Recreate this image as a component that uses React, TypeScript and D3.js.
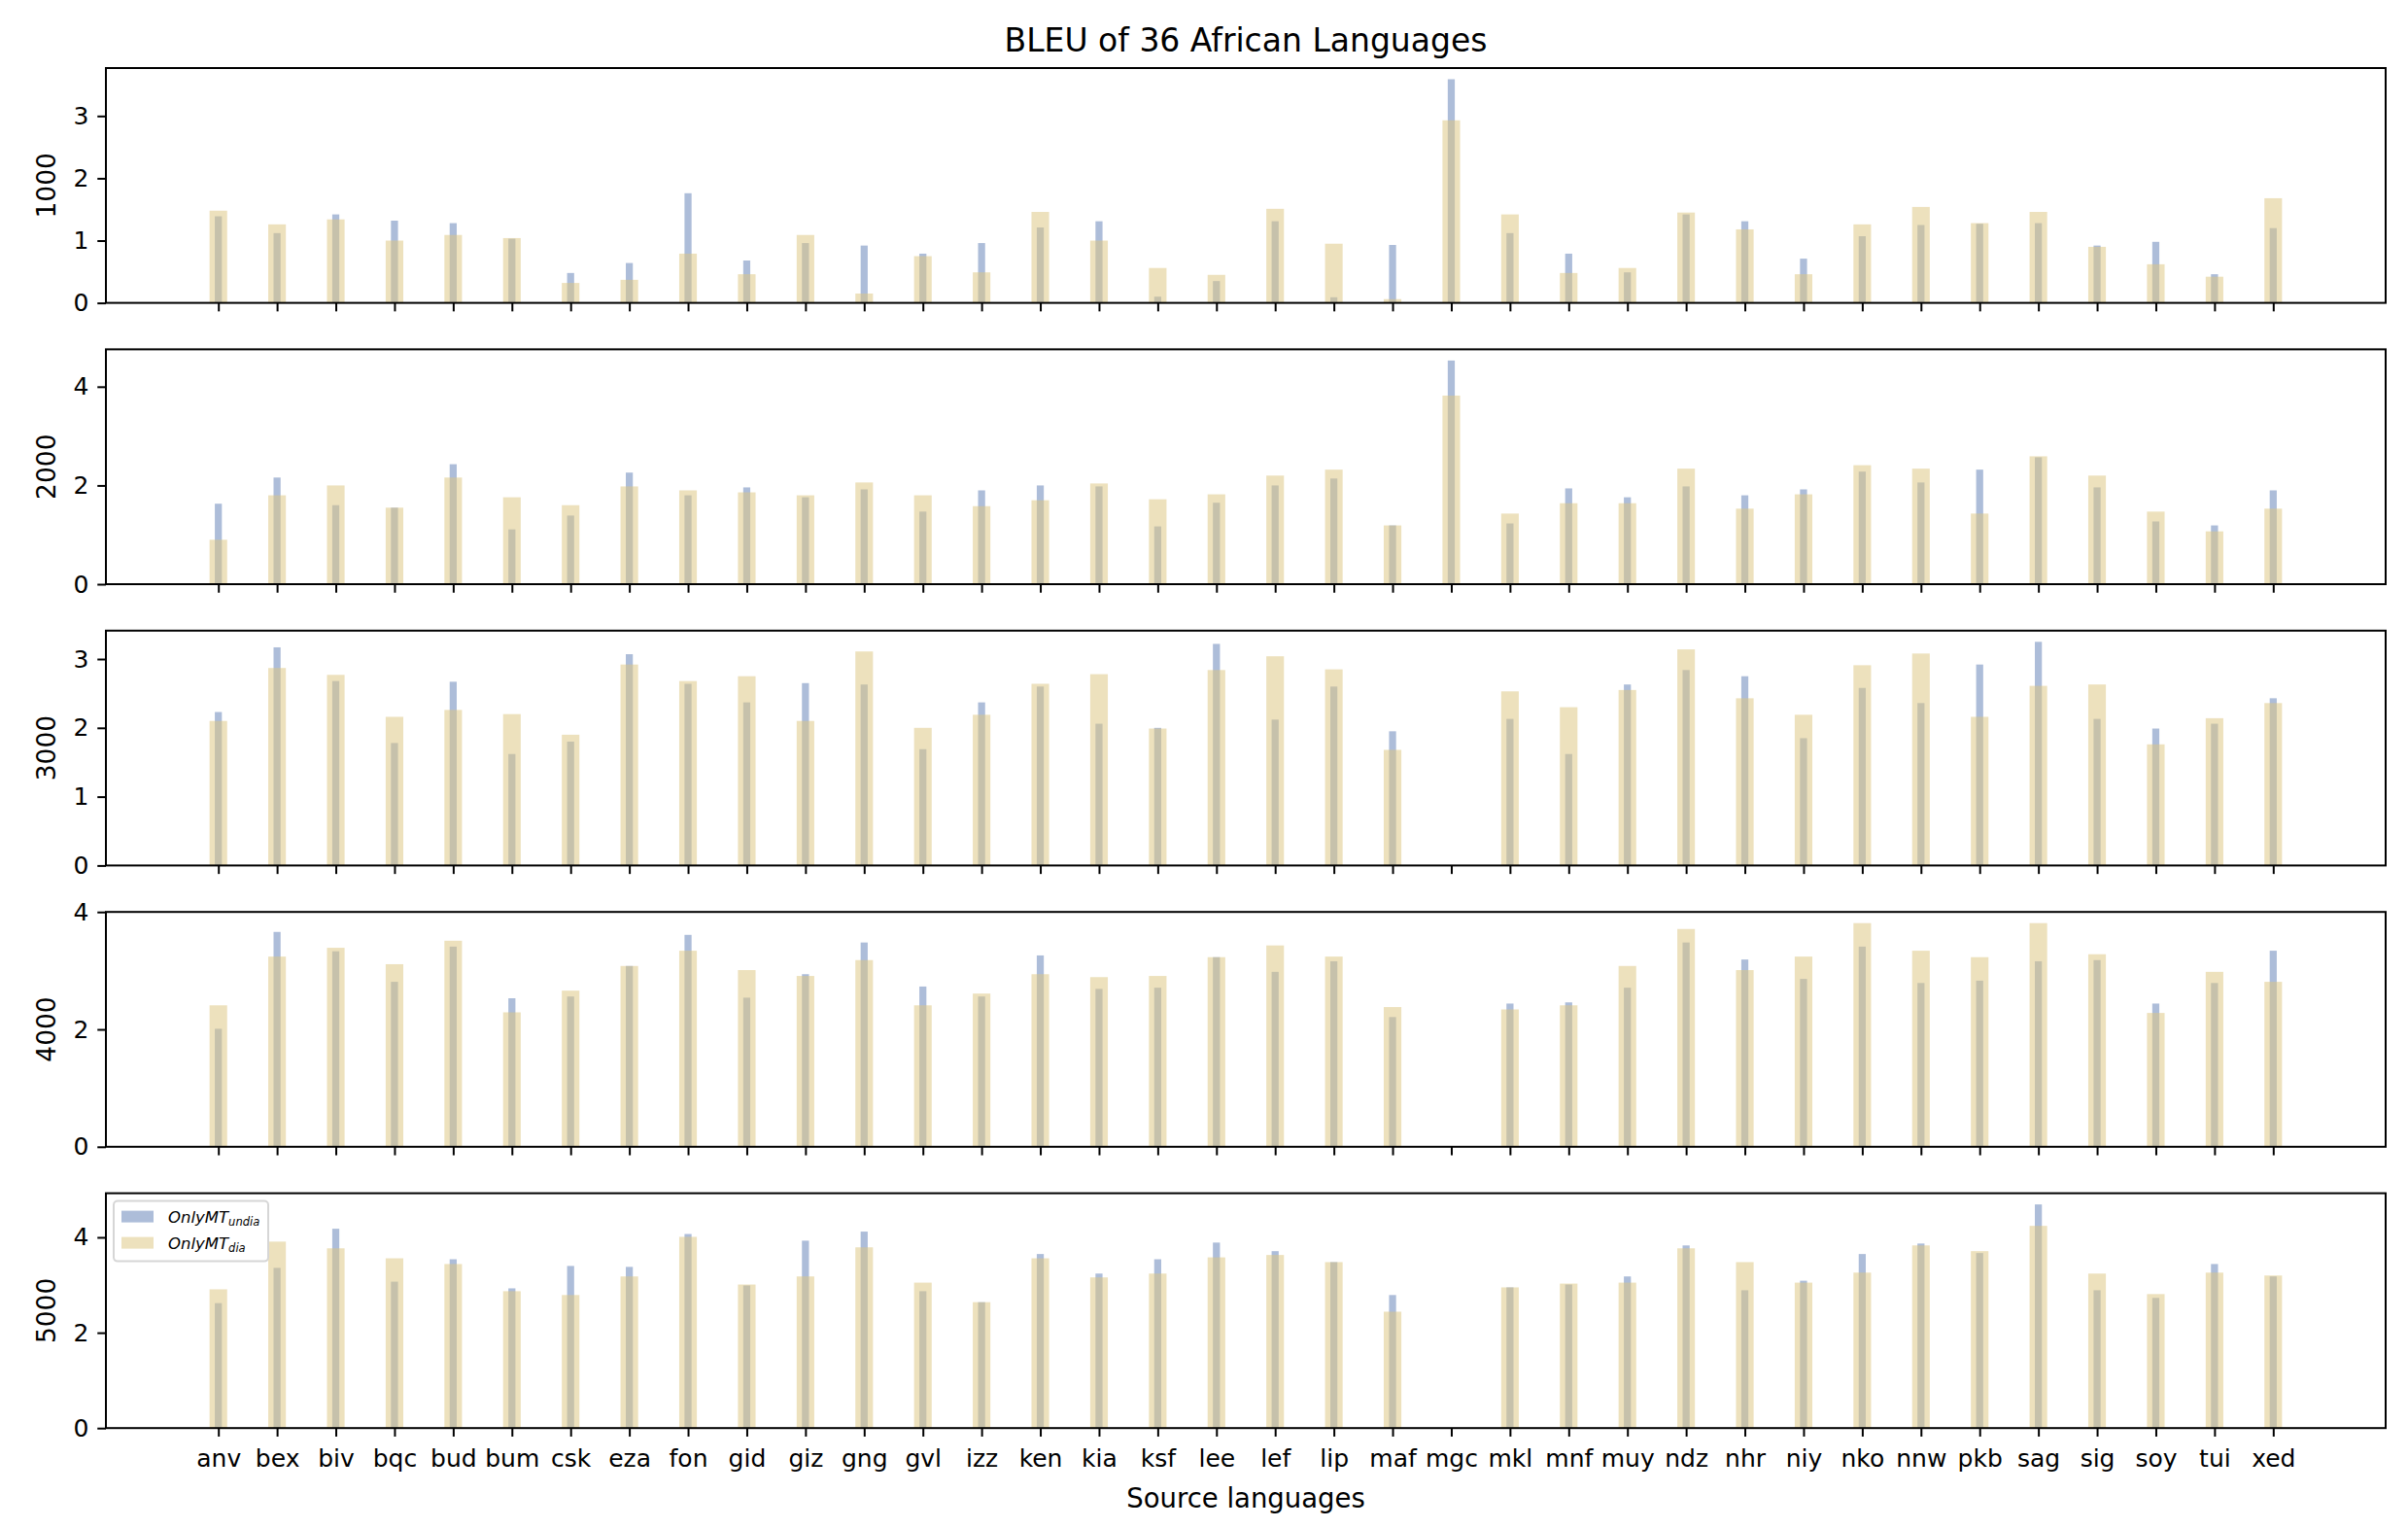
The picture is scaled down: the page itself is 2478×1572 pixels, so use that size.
import { useEffect, useRef } from "react";
import * as d3 from "d3";

const langs = [
  "anv", "bex", "biv", "bqc", "bud", "bum", "csk", "eza", "fon", "gid", "giz", "gng",
  "gvl", "izz", "ken", "kia", "ksf", "lee", "lef", "lip", "maf", "mgc", "mkl", "mnf",
  "muy", "ndz", "nhr", "niy", "nko", "nnw", "pkb", "sag", "sig", "soy", "tui", "xed",
];

const panelLabels = ["1000", "2000", "3000", "4000", "5000"];
const yTickSteps = [1, 2, 1, 2, 2];

// OnlyMT_undia (blue) per panel
const undia1000 = [1.39, 1.12, 1.42, 1.32, 1.28, 1.03, 0.48, 0.64, 1.76, 0.68, 0.96, 0.92, 0.79, 0.96, 1.21, 1.31, 0.1, 0.35, 1.31, 0.09, 0.93, 3.59, 1.12, 0.79, 0.49, 1.42, 1.31, 0.71, 1.07, 1.25, 1.27, 1.28, 0.92, 0.98, 0.46, 1.2];
const undia2000 = [1.63, 2.16, 1.6, 1.55, 2.43, 1.11, 1.39, 2.26, 1.8, 1.96, 1.76, 1.92, 1.47, 1.9, 2.0, 1.98, 1.17, 1.65, 2.0, 2.14, 1.19, 4.53, 1.23, 1.94, 1.76, 1.98, 1.8, 1.92, 2.28, 2.06, 2.32, 2.57, 1.96, 1.27, 1.19, 1.9];
const undia3000 = [2.23, 3.17, 2.68, 1.78, 2.67, 1.62, 1.8, 3.07, 2.64, 2.37, 2.65, 2.63, 1.69, 2.37, 2.6, 2.06, 2.0, 3.22, 2.12, 2.6, 1.95, 0, 2.13, 1.62, 2.63, 2.84, 2.75, 1.85, 2.58, 2.36, 2.92, 3.25, 2.13, 1.99, 2.06, 2.43];
const undia4000 = [2.01, 3.66, 3.33, 2.81, 3.41, 2.53, 2.56, 3.08, 3.61, 2.54, 2.94, 3.48, 2.73, 2.56, 3.26, 2.69, 2.71, 3.23, 2.98, 3.16, 2.21, 0, 2.44, 2.46, 2.71, 3.48, 3.19, 2.86, 3.41, 2.79, 2.83, 3.16, 3.18, 2.44, 2.79, 3.34];
const undia5000 = [2.62, 3.36, 4.18, 3.07, 3.54, 2.93, 3.4, 3.38, 4.07, 2.99, 3.93, 4.12, 2.87, 2.64, 3.65, 3.24, 3.54, 3.89, 3.71, 3.48, 2.79, 0, 2.95, 3.01, 3.18, 3.83, 2.89, 3.09, 3.65, 3.87, 3.67, 4.69, 2.89, 2.73, 3.44, 3.18];

// OnlyMT_dia (yellow) per panel
const dia1000 = [1.48, 1.26, 1.34, 1.0, 1.09, 1.04, 0.32, 0.37, 0.79, 0.46, 1.09, 0.15, 0.75, 0.49, 1.46, 1.0, 0.56, 0.45, 1.51, 0.95, 0.06, 2.93, 1.42, 0.48, 0.56, 1.45, 1.18, 0.46, 1.26, 1.54, 1.28, 1.46, 0.9, 0.62, 0.42, 1.68];
const dia2000 = [0.9, 1.8, 2.0, 1.55, 2.16, 1.76, 1.6, 1.98, 1.9, 1.86, 1.8, 2.06, 1.8, 1.58, 1.7, 2.04, 1.72, 1.82, 2.2, 2.32, 1.19, 3.82, 1.43, 1.64, 1.64, 2.34, 1.53, 1.82, 2.41, 2.34, 1.43, 2.59, 2.2, 1.47, 1.07, 1.53];
const dia3000 = [2.1, 2.87, 2.77, 2.16, 2.26, 2.2, 1.9, 2.92, 2.68, 2.75, 2.1, 3.11, 2.0, 2.19, 2.64, 2.78, 1.99, 2.84, 3.04, 2.85, 1.68, 0, 2.53, 2.3, 2.55, 3.14, 2.43, 2.19, 2.91, 3.08, 2.16, 2.61, 2.63, 1.76, 2.14, 2.36];
const dia4000 = [2.41, 3.24, 3.39, 3.11, 3.51, 2.29, 2.66, 3.08, 3.34, 3.01, 2.91, 3.18, 2.41, 2.61, 2.94, 2.89, 2.91, 3.23, 3.43, 3.24, 2.38, 0, 2.34, 2.41, 3.08, 3.71, 3.01, 3.24, 3.81, 3.34, 3.23, 3.81, 3.28, 2.28, 2.98, 2.81];
const dia5000 = [2.91, 3.91, 3.77, 3.56, 3.44, 2.87, 2.79, 3.18, 4.01, 3.01, 3.18, 3.79, 3.05, 2.64, 3.56, 3.16, 3.24, 3.58, 3.63, 3.48, 2.44, 0, 2.95, 3.03, 3.05, 3.77, 3.48, 3.05, 3.26, 3.83, 3.71, 4.24, 3.24, 2.81, 3.26, 3.2];

const undiaSeries = [undia1000, undia2000, undia3000, undia4000, undia5000];
const diaSeries = [dia1000, dia2000, dia3000, dia4000, dia5000];

const W = 2478;
const H = 1572;
const FONT = "'DejaVu Sans', sans-serif";

export default function App() {
  const svgRef = useRef<SVGSVGElement>(null);

  useEffect(() => {
    const svg = d3.select(svgRef.current);
    svg.selectAll("*").remove();

    const left = 109;
    const right = 2455;
    const firstTop = 70;
    const panelH = 241.6;
    const step = 289.4;
    const wideW = 0.3;
    const narrowW = 0.12;

    const n = langs.length;
    const lo = -wideW / 2;
    const hi = n - 1 + wideW / 2;
    const pad = (hi - lo) * 0.05;
    const x = d3.scaleLinear().domain([lo - pad, hi + pad]).range([left, right]);

    svg.append("rect").attr("width", W).attr("height", H).attr("fill", "white");

    panelLabels.forEach((label, p) => {
      const top = firstTop + p * step;
      const bottom = top + panelH;
      const und = undiaSeries[p];
      const dia = diaSeries[p];
      const ymax = Math.max(d3.max(und)!, d3.max(dia)!) * 1.05;
      const y = d3.scaleLinear().domain([0, ymax]).range([bottom, top]);

      const g = svg.append("g");

      // blue bars underneath
      g.selectAll(".und")
        .data(und)
        .enter()
        .append("rect")
        .attr("x", (_, i) => x(i - narrowW / 2))
        .attr("width", x(narrowW) - x(0))
        .attr("y", (d) => y(d))
        .attr("height", (d) => y(0) - y(d))
        .attr("fill", "#adbdd9");

      // yellow bars, semi transparent, on top
      g.selectAll(".dia")
        .data(dia)
        .enter()
        .append("rect")
        .attr("x", (_, i) => x(i - wideW / 2))
        .attr("width", x(wideW) - x(0))
        .attr("y", (d) => y(d))
        .attr("height", (d) => y(0) - y(d))
        .attr("fill", "#dcc580")
        .attr("fill-opacity", 0.52);

      // y axis
      const ticks = d3.range(0, ymax + 1e-9, yTickSteps[p]);
      const yAxis = g
        .append("g")
        .attr("transform", `translate(${left},0)`)
        .call(
          d3
            .axisLeft(y)
            .tickValues(ticks)
            .tickFormat(d3.format("d"))
            .tickSizeOuter(0)
            .tickSize(8.75)
            .tickPadding(8.75)
        );
      yAxis.select(".domain").remove();
      yAxis.selectAll("line").attr("stroke-width", 2);
      yAxis.selectAll("text").style("font-family", FONT).style("font-size", "25px").attr("fill", "black");

      // x axis
      const xAxis = g
        .append("g")
        .attr("transform", `translate(0,${bottom})`)
        .call(
          d3
            .axisBottom(x)
            .tickValues(d3.range(n))
            .tickFormat((d) => (p === panelLabels.length - 1 ? langs[d as number] : ""))
            .tickSizeOuter(0)
            .tickSize(8.75)
            .tickPadding(8.75)
        );
      xAxis.select(".domain").remove();
      xAxis.selectAll("line").attr("stroke-width", 2);
      xAxis
        .selectAll("text")
        .attr("dy", null)
        .attr("y", 40)
        .style("font-family", FONT)
        .style("font-size", "25px")
        .attr("fill", "black");

      // frame
      g.append("rect")
        .attr("x", left)
        .attr("y", top)
        .attr("width", right - left)
        .attr("height", panelH)
        .attr("fill", "none")
        .attr("stroke", "black")
        .attr("stroke-width", 2);

      // y label
      g.append("text")
        .attr("transform", `translate(57,${(top + bottom) / 2}) rotate(-90)`)
        .attr("text-anchor", "middle")
        .style("font-family", FONT)
        .style("font-size", "26.5px")
        .text(label);

      if (p === panelLabels.length - 1) {
        // legend
        const lg = g.append("g").attr("transform", `translate(${left + 8},${top + 8})`);
        lg.append("rect")
          .attr("width", 159)
          .attr("height", 62)
          .attr("rx", 4)
          .attr("fill", "white")
          .attr("fill-opacity", 0.8)
          .attr("stroke", "#d6d6d6")
          .attr("stroke-width", 2);
        const items = [
          { sub: "undia", color: "#adbdd9" },
          { sub: "dia", color: "#ede1bd" },
        ];
        items.forEach((it, k) => {
          const cy = 16 + k * 27;
          lg.append("rect")
            .attr("x", 8)
            .attr("y", cy - 6)
            .attr("width", 33)
            .attr("height", 12)
            .attr("fill", it.color);
          const t = lg
            .append("text")
            .attr("x", 56)
            .attr("y", cy + 6)
            .style("font-family", FONT)
            .style("font-size", "16.5px")
            .style("font-style", "italic");
          t.append("tspan").text("OnlyMT");
          t.append("tspan").attr("dy", 3.5).style("font-size", "11.5px").text(it.sub);
        });
      }
    });

    // title
    svg.append("text")
      .attr("x", (left + right) / 2)
      .attr("y", 53)
      .attr("text-anchor", "middle")
      .style("font-family", FONT)
      .style("font-size", "33px")
      .text("BLEU of 36 African Languages");

    // x label
    svg.append("text")
      .attr("x", (left + right) / 2)
      .attr("y", 1551)
      .attr("text-anchor", "middle")
      .style("font-family", FONT)
      .style("font-size", "27.5px")
      .text("Source languages");
  }, []);

  return (
    <svg
      ref={svgRef}
      width={W}
      height={H}
      style={{ position: "absolute", left: 0, top: 0, display: "block" }}
    />
  );
}
